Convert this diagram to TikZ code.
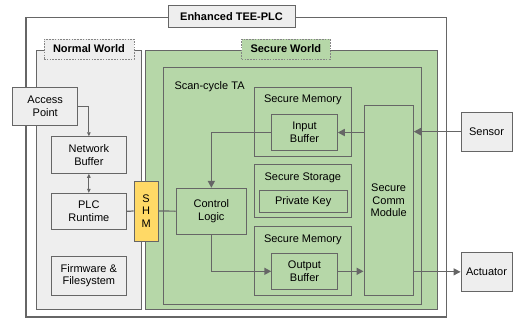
\documentclass[tikz,border=0pt]{standalone}
\usepackage{fontspec}
\setmainfont{Liberation Sans}
\usetikzlibrary{arrows.meta}
\definecolor{edgegray}{HTML}{666666}
\definecolor{lightgray}{HTML}{EEEEEE}
\definecolor{securegreen}{HTML}{B6D7A8}
\definecolor{shmyellow}{HTML}{FFD966}
\begin{document}
\begin{tikzpicture}[x=1pt,y=-1pt,
	every node/.style={font=\fontsize{11}{12.5}\selectfont,align=center,inner sep=0pt},
	blk/.style={draw=edgegray,line width=0.9pt,minimum width=#1},
	gbox/.style={blk=#1,fill=securegreen},
	nbox/.style={blk=#1,fill=lightgray},
	tag/.style={draw=edgegray!80,line width=0.9pt,dash pattern=on 1.6pt off 1.2pt,font=\bfseries\fontsize{11}{12.5}\selectfont,minimum height=20pt},
	flow/.style={draw=edgegray,line width=1.6pt,-{Triangle[length=7pt,width=7pt]}},
	thin/.style={draw=edgegray,line width=0.9pt,-{Triangle[length=4pt,width=3.5pt]}}]
	\useasboundingbox (0,0) rectangle (513,322);
	\node[blk=420.7pt,line width=1.5pt,minimum height=299.5pt] (plc) at (236.3,167.3){};
	\node[nbox=127pt,minimum height=22pt,font=\bfseries\fontsize{11}{12.5}\selectfont] (title) at (231.5,16.3){Enhanced TEE-PLC};
	\node[nbox=105.7pt,minimum height=258.3pt] (normal) at (88.85,179.85){};
	\node[gbox=292pt,minimum height=258.3pt] (secure) at (291.7,179.85){};
	\node[tag,fill=lightgray,minimum width=90pt] (normaltag) at (89,49){Normal World};
	\node[tag,fill=securegreen,minimum width=88.3pt] (securetag) at (285.85,49){Secure World};
	\node[gbox=258.4pt,minimum height=236.6pt] (ta) at (292.5,186){};
	\node[anchor=west] (talabel) at (174.3,86.7){Scan-cycle TA};
	\begin{scope}[every node/.append style={gbox=97.7pt}]
		\node[minimum height=68.7pt] (memin) at (302.85,121.65){};
		\node[minimum height=53pt] (storage) at (302.85,190.5){};
		\node[minimum height=68.3pt] (memout) at (302.85,260.85){};
	\end{scope}
	\node (meminlabel) at (302.85,99.3){Secure Memory};
	\node (storagelabel) at (302.85,177.3){Secure Storage};
	\node (memoutlabel) at (302.85,239.3){Secure Memory};
	\node[gbox=65.6pt,minimum height=36.4pt] (inbuf) at (304.5,132.5){Input\\Buffer};
	\node[gbox=88.3pt,minimum height=21.6pt] (key) at (303.15,201.5){Private Key};
	\node[gbox=65.6pt,minimum height=36pt] (outbuf) at (304.5,271.3){Output\\Buffer};
	\node[gbox=49.3pt,minimum height=189.3pt] (comm) at (388.65,200.35){Secure\\Comm\\Module};
	\node[gbox=70.7pt,minimum height=45.7pt] (ctrl) at (211.35,211.15){Control\\Logic};
	\node[blk=24.3pt,fill=shmyellow,minimum height=60pt] (shm) at (146.15,211){S\\H\\M};
	\node[nbox=75.7pt,minimum height=36.6pt] (netbuf) at (88.85,155){Network\\Buffer};
	\node[nbox=75.7pt,minimum height=36pt] (runtime) at (88.85,211.3){PLC\\Runtime};
	\node[nbox=75.7pt,minimum height=38.3pt] (firmware) at (88.85,275.85){Firmware \&\\Filesystem};
	\node[nbox=65pt,minimum height=38pt] (ap) at (45.2,106.3){Access\\Point};
	\node[nbox=51pt,minimum height=38.7pt] (sensor) at (486.5,131.65){Sensor};
	\node[nbox=51pt,minimum height=38.3pt] (actuator) at (486.5,271.85){Actuator};
	\draw[thin] (ap.east) -| (netbuf.north);
	\draw[thin,{Triangle[length=4pt,width=3.5pt]}-{Triangle[length=4pt,width=3.5pt]}] (netbuf.south) -- (runtime.north);
	\draw[edgegray,line width=1.2pt] (runtime.east) -- (shm.west) (shm.east) -- (ctrl.west);
	\draw[flow] (sensor.west) -- (sensor.west -| comm.east);
	\draw[flow] (comm.west |- inbuf.east) -- (inbuf.east);
	\draw[flow] (inbuf.west) -| (ctrl.north);
	\draw[flow] (ctrl.south) |- (outbuf.west);
	\draw[flow] (outbuf.east) -- (outbuf.east -| comm.west);
	\draw[flow,line width=1.2pt] (comm.east |- actuator.west) -- (actuator.west);
\end{tikzpicture}
\end{document}
